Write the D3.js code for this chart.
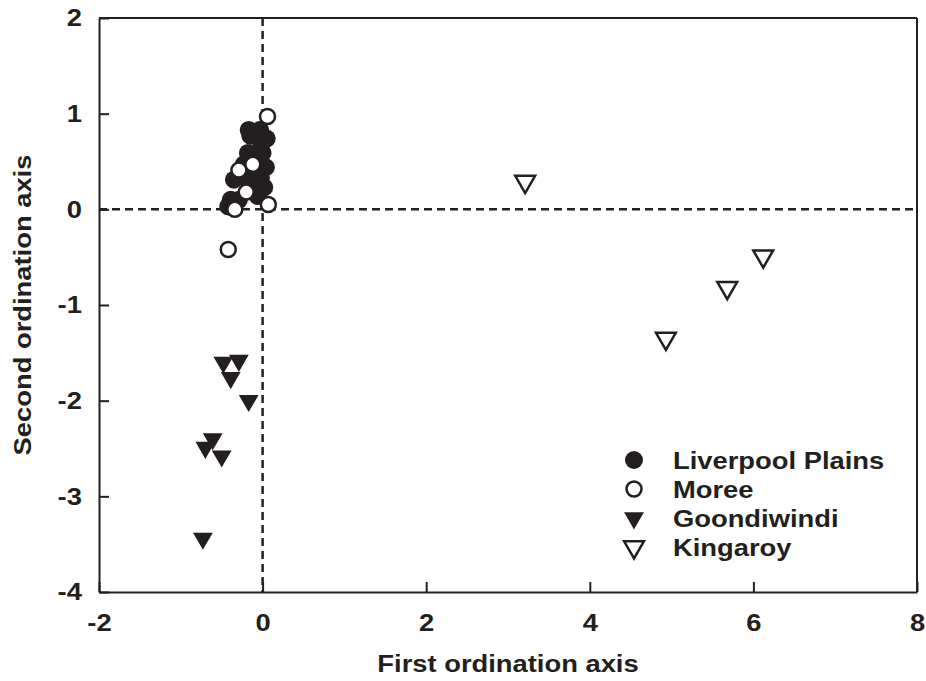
<!DOCTYPE html>
<html>
<head>
<meta charset="utf-8">
<script src="https://cdn.jsdelivr.net/npm/d3@7"></script>
<style>
  body { margin: 0; background: #fff; }
  svg text { font-family: "Liberation Sans", Arial, sans-serif; font-weight: bold; fill: #231f20; }
</style>
</head>
<body>
<svg id="chart"></svg>
<script>
// ordination scores
const liverpoolX = [-0.17, -0.03, 0.05, -0.15, -0.02, -0.18, 0.0, -0.23, 0.04, -0.35, -0.18, -0.02, 0.02, -0.15, -0.39, -0.06, -0.42, -0.29];
const liverpoolY = [0.83, 0.83, 0.74, 0.77, 0.70, 0.59, 0.59, 0.47, 0.44, 0.31, 0.31, 0.33, 0.23, 0.23, 0.10, 0.14, 0.03, 0.10];
const moreeX = [0.06, -0.12, -0.29, -0.20, -0.34, 0.07, -0.42];
const moreeY = [0.97, 0.47, 0.41, 0.18, 0.00, 0.05, -0.42];
const goondiwindiX = [-0.48, -0.29, -0.39, -0.17, -0.61, -0.70, -0.50, -0.73];
const goondiwindiY = [-1.60, -1.58, -1.76, -2.00, -2.40, -2.49, -2.58, -3.44];
const kingaroyX = [3.21, 6.12, 5.68, 4.93];
const kingaroyY = [0.29, -0.49, -0.82, -1.35];

const xTicks = [-2, 0, 2, 4, 6, 8];
const yTicks = [2, 1, 0, -1, -2, -3, -4];
const seriesNames = ["Liverpool Plains", "Moree", "Goondiwindi", "Kingaroy"];

const ink = "#231f20";
const fontSize = 24;
const stretch = 'scale(1.14,1)';   // the original lettering is a bit wider than Arial
const config = {
    width: 926,
    height: 681,
    margin: { top: 18, right: 9, bottom: 89, left: 99 }
};

const svg = d3.select('#chart')
    .attr('width', config.width)
    .attr('height', config.height);

const width = config.width - config.margin.left - config.margin.right;
const height = config.height - config.margin.top - config.margin.bottom;

const xScale = d3.scaleLinear().domain([-2, 8]).range([0, width]);
const yScale = d3.scaleLinear().domain([-4, 2]).range([height, 0]);

const chart = svg.append('g')
    .attr('transform', `translate(${config.margin.left},${config.margin.top})`);

// dashed zero lines
chart.append('line')
    .attr('x1', xScale(0)).attr('x2', xScale(0))
    .attr('y1', 0).attr('y2', height)
    .attr('stroke', ink).attr('stroke-width', 2.5)
    .attr('stroke-dasharray', '8,5');
chart.append('line')
    .attr('x1', 0).attr('x2', width)
    .attr('y1', yScale(0)).attr('y2', yScale(0))
    .attr('stroke', ink).attr('stroke-width', 2.5)
    .attr('stroke-dasharray', '8,5');

// axes, ticks pointing inward
const xAxis = d3.axisBottom(xScale).tickValues(xTicks).tickSizeInner(-10).tickSizeOuter(0).tickPadding(22).tickFormat(d => String(d));
const yAxis = d3.axisLeft(yScale).tickValues(yTicks).tickSizeInner(-10).tickSizeOuter(0).tickPadding(15).tickFormat(d => String(d));

const xAxisG = chart.append('g').attr('transform', `translate(0,${height})`).call(xAxis);
const yAxisG = chart.append('g').call(yAxis);
[xAxisG, yAxisG].forEach(g => {
    g.selectAll('path, line').attr('stroke', ink).attr('stroke-width', 2);
    g.selectAll('text').attr('font-size', fontSize).attr('fill', ink)
        .attr('transform', stretch)
        .style('font-family', '"Liberation Sans", Arial, sans-serif').style('font-weight', 'bold');
});

// top and right frame
chart.append('line').attr('x1', 0).attr('x2', width).attr('y1', 0).attr('y2', 0)
    .attr('stroke', ink).attr('stroke-width', 2);
chart.append('line').attr('x1', width).attr('x2', width).attr('y1', 0).attr('y2', height)
    .attr('stroke', ink).attr('stroke-width', 2);

// markers
const triangle = d3.symbol().type(d3.symbolTriangle).size(170);
const flip = 'rotate(180)';

function drawCircles(xs, ys, open) {
    chart.append('g').selectAll('circle')
        .data(xs.map((x, i) => ({ x: x, y: ys[i] })))
        .join('circle')
        .attr('cx', d => xScale(d.x))
        .attr('cy', d => yScale(d.y))
        .attr('r', open ? 7.5 : 9)
        .attr('fill', open ? '#fff' : ink)
        .attr('stroke', open ? ink : 'none')
        .attr('stroke-width', 2.5);
}

function drawTriangles(xs, ys, open) {
    chart.append('g').selectAll('path')
        .data(xs.map((x, i) => ({ x: x, y: ys[i] })))
        .join('path')
        .attr('d', triangle)
        .attr('transform', d => `translate(${xScale(d.x)},${yScale(d.y)}) ${flip}`)
        .attr('fill', open ? '#fff' : ink)
        .attr('stroke', open ? ink : 'none')
        .attr('stroke-width', 2.5);
}

drawCircles(liverpoolX, liverpoolY, false);
drawCircles(moreeX, moreeY, true);
drawTriangles(goondiwindiX, goondiwindiY, false);
drawTriangles(kingaroyX, kingaroyY, true);

// axis titles
svg.append('text')
    .attr('transform', `translate(${config.margin.left + width / 2},672) ${stretch}`)
    .attr('text-anchor', 'middle')
    .attr('font-size', fontSize)
    .text('First ordination axis');

svg.append('text')
    .attr('transform', `translate(31,${config.margin.top + height / 2}) rotate(-90) ${stretch}`)
    .attr('text-anchor', 'middle')
    .attr('font-size', fontSize)
    .text('Second ordination axis');

// legend
const legend = svg.append('g').attr('transform', 'translate(634,460)');
seriesNames.forEach((name, i) => {
    const row = legend.append('g').attr('transform', `translate(0,${i * 29})`);
    if (i === 0) {
        row.append('circle').attr('r', 9).attr('fill', ink);
    } else if (i === 1) {
        row.append('circle').attr('r', 7.5).attr('fill', '#fff').attr('stroke', ink).attr('stroke-width', 2.5);
    } else {
        row.append('path').attr('d', triangle).attr('transform', flip)
            .attr('fill', i === 2 ? ink : '#fff')
            .attr('stroke', i === 2 ? 'none' : ink)
            .attr('stroke-width', 2.5);
    }
    row.append('text')
        .attr('transform', `translate(39,8.5) ${stretch}`)
        .attr('font-size', fontSize)
        .text(name);
});
</script>
</body>
</html>
